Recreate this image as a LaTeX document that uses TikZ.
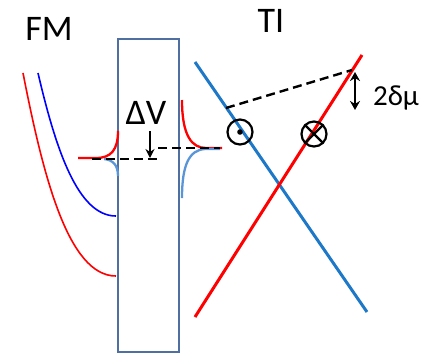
\documentclass[tikz,border=0pt]{standalone}
\usepackage{fontspec}
\setmainfont{Carlito}
\usetikzlibrary{arrows.meta}
\definecolor{boxc}{RGB}{79,111,160}
\definecolor{tiblue}{RGB}{30,120,200}
\definecolor{spblue}{RGB}{90,150,215}
\tikzset{
  lbl/.style={inner sep=0pt, font=\fontsize{36}{40}\selectfont},
  slbl/.style={inner sep=0pt, font=\fontsize{29}{32}\selectfont},
  fmred/.style={draw=red, line width=1.6pt},
  fmblue/.style={draw=blue, line width=1.6pt},
  spred/.style={draw=red, line width=2.3pt},
  spbl/.style={draw=spblue, line width=2.3pt},
  tiline/.style={line width=3pt},
  dsh/.style={draw=black, line width=2.4pt, dash pattern=on 9pt off 5pt},
  barrier/.style={draw=boxc, line width=1.8pt},
  spinc/.style={draw=black, circle, line width=2.2pt, minimum size=25pt, inner sep=0pt}
}
\begin{document}
\begin{tikzpicture}[x=1pt,y=-1pt]
\useasboundingbox (0,0) rectangle (424,354);
% barrier
\draw[barrier] (118,39) rectangle (179,352);
% labels
\node[lbl] (fm) at (49,29) {FM};
\node[lbl] (ti) at (271,21) {TI};
\node[lbl] (dv) at (146,113) {ΔV};
\node[slbl] (dm) at (396,98) {2δμ};
% FM bands
\coordinate (r1) at (23,73);
\coordinate (r2) at (116,276);
\coordinate (b1) at (38,73);
\coordinate (b2) at (116,216);
\draw[fmred] (r1) .. controls (43,175) and (68,276) .. (r2);
\draw[fmblue] (b1) .. controls (56,150) and (78,216) .. (b2);
% interface spikes, left
\coordinate (lr1) at (78,158);
\coordinate (lr2) at (118,131);
\coordinate (lb1) at (104,159);
\coordinate (lb2) at (118,176);
\draw[spred] (lr1) -- (96,158) .. controls (111,158) and (118,150) .. (lr2);
\draw[spbl] (lb1) .. controls (113,160) and (118,165) .. (lb2);
% interface spikes, right
\coordinate (rr1) at (182,100);
\coordinate (rr2) at (222,148);
\coordinate (rb1) at (182,198);
\coordinate (rb2) at (220,149);
\draw[spred] (rr1) .. controls (182,136) and (192,148) .. (206,148) -- (rr2);
\draw[spbl] (rb1) .. controls (182,165) and (189,150) .. (205,149) -- (rb2);
% dashed levels
\coordinate (dl1) at (92,159);
\coordinate (dl2) at (161,159);
\coordinate (dr1) at (158,148);
\coordinate (dr2) at (220,148);
\draw[dsh] (dl1) -- (dl2);
\draw[dsh] (dr1) -- (dr2);
% Delta V arrow
\coordinate (va) at (150,131);
\coordinate (vb) at (150,158);
\draw[line width=2.2pt, -{Stealth[length=9pt,width=9pt]}] (va) -- (vb);
% TI Dirac cone
\coordinate (tb1) at (195,62);
\coordinate (tb2) at (367,312);
\coordinate (tr1) at (195,317);
\coordinate (tr2) at (362,55);
\draw[tiline, draw=tiblue] (tb1) -- (tb2);
\draw[tiline, draw=red] (tr1) -- (tr2);
% spin symbols
\node[spinc] (sdot) at (240,132) {};
\fill (sdot.center) circle (2.8pt);
\node[spinc] (scr) at (314,134) {};
\draw[line width=2.2pt] (scr.north west) -- (scr.south east);
\draw[line width=2.2pt] (scr.north east) -- (scr.south west);
% chemical potential line
\coordinate (mu1) at (226,108);
\coordinate (mu2) at (352,70);
\draw[dsh] (mu1) -- (mu2);
% 2 delta mu arrow
\coordinate (ma) at (355,72);
\coordinate (mb) at (355,110);
\draw[line width=2.4pt, {Stealth[length=9pt,width=10pt]}-{Stealth[length=9pt,width=10pt]}] (ma) -- (mb);
\end{tikzpicture}
\end{document}
